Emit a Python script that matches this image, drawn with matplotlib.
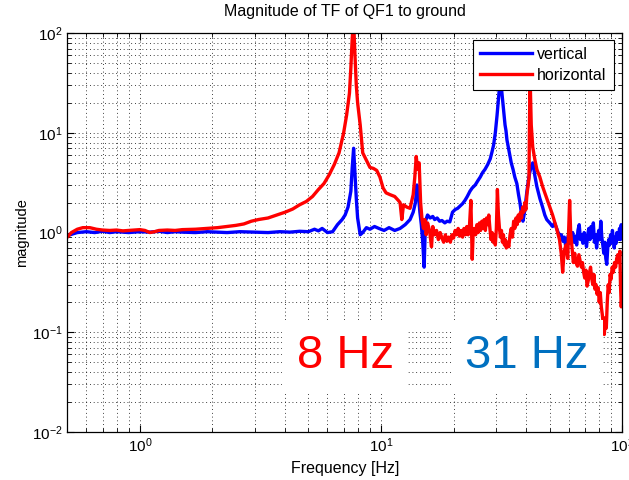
import matplotlib
matplotlib.use("Agg")
import matplotlib.pyplot as plt
from matplotlib.ticker import LogLocator, NullFormatter

plt.rcParams['font.family'] = ['Liberation Sans', 'DejaVu Sans']
plt.rcParams['mathtext.default'] = 'regular'

# ---- measured transfer function magnitudes ----
vert_freq = [0.5, 0.52, 0.55, 0.6, 0.65, 0.7, 0.75, 0.8, 0.85, 0.9, 1.0, 1.1, 1.2,
             1.3, 1.4, 1.5, 1.7, 1.9, 2.1, 2.3, 2.6, 3.0, 3.4, 3.8, 4.2, 4.6, 5.0,
             5.3, 5.5, 5.7, 6.0, 6.3, 6.6, 6.9, 7.1, 7.3, 7.5, 7.6, 7.7, 7.8, 7.9,
             8.0, 8.2, 8.4, 8.7, 9.0, 9.4, 9.8, 10.3, 10.8, 11.4, 12.0, 12.6, 13.2,
             13.6, 13.9, 14.1, 14.3, 14.5, 14.7, 14.9, 15.1,
             15.3, 15.6, 16.0, 16.4, 16.7, 17.1, 17.5, 17.9, 18.4, 18.8, 19.3, 19.8,
             20.3, 20.8, 21.3, 21.8, 22.3, 22.8, 23.4, 23.9, 24.6, 25.2, 25.8, 26.4,
             27.0, 27.7, 28.4, 28.9, 29.3, 29.8, 30.3, 30.8, 31.2, 31.6, 32.1, 32.4,
             32.7, 33.0, 33.3, 33.8, 34.2, 34.7, 35.3, 35.9, 36.6, 37.2, 37.7, 38.3,
             38.8, 39.2, 39.5, 40.0, 40.3, 41.0, 41.4, 42.0, 42.6, 43.0, 43.4, 44.3,
             45.6, 46.8, 47.8, 48.7, 50.1, 51.5, 52.5, 53.5, 54.3, 55.1,
             56.0, 56.8, 57.6, 58.4, 59.2, 60.0, 60.8, 61.6, 62.4, 63.2, 64.0, 64.8,
             65.6, 66.4, 67.2, 68.0, 68.8, 69.6, 70.4, 71.2, 72.0, 72.8, 73.6, 74.4,
             75.2, 76.0, 76.8, 77.6, 78.4, 79.2, 80.0, 80.8, 81.6, 82.4, 83.2, 84.0,
             84.8, 85.6, 86.4, 87.2, 88.0, 88.8, 89.6, 90.4, 91.2, 92.0, 92.8, 93.6,
             94.4, 95.2, 96.0, 96.8, 97.6, 98.4, 99.2, 100.0]
vert_mag = [0.93, 0.96, 1.0, 1.02, 1.0, 1.03, 1.0, 1.02, 1.01, 1.0, 1.02, 1.01, 1.03,
            1.0, 1.02, 1.01, 1.0, 1.02, 1.01, 1.0, 1.02, 1.01, 1.0, 1.02, 1.01, 1.03,
            1.02, 1.08, 1.04, 1.1, 1.0, 1.02, 1.2, 1.35, 1.5, 1.8, 2.6, 4.5, 7.0,
            4.0, 2.2, 1.4, 0.95, 1.0, 1.12, 1.08, 1.15, 1.1, 1.05, 1.12, 1.05, 1.1,
            1.2, 1.35, 1.6, 2.0, 3.0, 2.4, 1.6, 1.2, 0.8, 0.45,
            1.3, 1.5, 1.4, 1.45, 1.35, 1.4, 1.3, 1.32, 1.25, 1.3, 1.28, 1.6,
            1.7, 1.75, 1.85, 1.95, 2.1, 2.3, 2.6, 2.8, 3.0, 3.3, 3.6, 4.0,
            4.3, 4.8, 5.5, 6.5, 7.5, 10.0, 15.0, 24.0, 34.0, 28.0, 19.0, 15.0,
            12.0, 10.5, 8.5, 7.0, 6.0, 5.0, 4.3, 3.6, 3.1, 2.4, 2.0, 1.5,
            1.3, 1.5, 1.7, 2.2, 2.6, 3.5, 4.0, 4.6, 5.0, 4.5, 3.8, 2.9,
            2.2, 1.8, 1.5, 1.35, 1.25, 1.15, 1.25, 1.1, 1.0, 0.95,
            0.95, 0.82, 0.9, 0.72, 0.85, 0.95, 0.78, 0.88, 1.0, 0.8, 0.92, 0.75,
            1.05, 1.2, 0.85, 0.95, 0.78, 1.0, 0.88, 0.72, 0.95, 1.1, 0.85, 1.15,
            0.9, 1.25, 0.8, 0.95, 0.7, 0.9, 1.05, 0.85, 1.3, 0.9, 0.75, 0.62,
            0.8, 0.55, 0.48, 0.7, 0.85, 0.75, 0.95, 0.8, 1.05, 0.85, 0.7, 0.9,
            0.78, 1.0, 0.85, 0.92, 1.1, 0.85, 1.2, 0.95]

horiz_freq = [0.5, 0.52, 0.55, 0.58, 0.62, 0.66, 0.7, 0.75, 0.8, 0.85, 0.9, 0.95,
              1.0, 1.05, 1.1, 1.15, 1.2, 1.3, 1.4, 1.5, 1.7, 1.9, 2.1, 2.3, 2.5,
              2.7, 2.9, 3.1, 3.4, 3.7, 4.0, 4.3, 4.6, 4.9, 5.2, 5.5, 5.8, 6.1, 6.4,
              6.7, 7.0, 7.2, 7.4, 7.5, 7.6, 7.7, 7.8, 7.9, 8.0, 8.2, 8.4, 8.7, 9.0,
              9.3, 9.6, 9.9, 10.2, 10.5, 10.9, 11.4, 11.8, 12.0, 12.2, 12.4, 12.8,
              13.2, 13.6, 13.8, 14.0, 14.2, 14.4, 14.6,
              14.8, 15.0, 15.2, 15.4, 15.6, 15.9, 16.2, 16.4, 16.7, 17.0, 17.3, 17.6,
              17.9, 18.2, 18.5, 18.8, 19.1, 19.4, 19.7, 20.0, 20.3, 20.6, 20.9, 21.2,
              21.5, 21.8, 22.1, 22.4, 22.7, 23.0, 23.3, 23.6, 23.8, 23.9, 24.1, 24.4,
              24.7, 25.0, 25.3, 25.6, 25.9, 26.2, 26.5, 26.8, 27.1, 27.4, 27.7, 28.0,
              28.3, 28.6, 28.9, 29.2, 29.5, 29.8, 30.1, 30.4, 30.7, 31.0, 31.3, 31.6,
              31.9, 32.2, 32.5, 32.8, 33.1, 33.5, 33.9, 34.3, 34.7, 35.1, 35.5, 35.9,
              36.3, 36.7, 37.1, 37.5, 37.9, 38.3, 38.7, 39.1, 39.5, 39.9, 40.3, 40.7,
              41.1, 41.5, 42.0, 42.6, 43.4, 44.3, 45.6, 46.8, 48.7, 50.1, 51.5, 53.5,
              55.0, 56.0, 56.7, 57.5, 58.5, 59.5, 60.6, 61.2, 62.0, 62.8, 63.6, 64.4,
              65.3, 66.2, 67.0, 67.8, 68.5, 69.3, 70.0, 70.8, 71.6, 72.4, 73.3, 74.0,
              74.8, 75.6, 76.4, 77.2, 78.0, 78.8, 79.6, 80.4, 81.2, 82.0, 82.8, 83.6,
              84.4, 85.2, 86.0, 86.8, 87.6, 88.4, 89.2, 90.0, 91.0, 92.0, 93.0, 94.0,
              95.0, 96.0, 97.0, 97.9, 98.5, 99.2, 100.0]
horiz_mag = [0.9, 1.0, 1.08, 1.12, 1.12, 1.08, 1.06, 1.05, 1.06, 1.04, 1.05, 1.06,
             1.07, 1.05, 1.0, 1.02, 1.05, 1.06, 1.05, 1.07, 1.08, 1.1, 1.12, 1.15,
             1.18, 1.22, 1.3, 1.35, 1.4, 1.5, 1.6, 1.72, 1.9, 2.05, 2.3, 2.7, 3.1,
             3.8, 4.8, 6.3, 10.0, 15.0, 25.0, 45.0, 90.0, 130.0, 60.0, 30.0, 20.0,
             12.0, 6.3, 5.3, 4.5, 4.4, 4.2, 3.6, 2.8, 2.5, 2.4, 2.3, 2.1, 2.0, 1.35,
             1.9, 1.8, 1.75, 2.4, 3.5, 5.8, 4.3, 5.0, 2.0,
             1.35, 1.1, 1.35, 0.95, 1.25, 1.05, 0.72, 1.15, 0.95, 1.05, 0.85, 1.0,
             0.88, 0.8, 0.95, 0.82, 0.9, 0.8, 0.95, 0.88, 1.05, 0.95, 1.1, 0.92,
             1.05, 0.9, 1.1, 0.95, 1.15, 0.95, 1.2, 2.1, 0.9, 0.54, 0.95, 1.1,
             0.95, 1.2, 1.0, 1.25, 1.05, 1.3, 1.1, 1.35, 1.05, 1.4, 1.2, 1.5,
             1.1, 0.85, 1.0, 0.8, 0.95, 0.75, 1.1, 2.7, 1.5, 1.1, 0.9, 1.05,
             0.8, 0.95, 0.75, 0.85, 0.7, 0.8, 0.72, 0.95, 1.1, 0.9, 1.3, 1.1,
             1.4, 1.2, 1.5, 1.3, 1.6, 1.4, 1.8, 1.6, 2.0, 1.7, 2.4, 2.9,
             3.5, 40.0, 12.0, 7.2, 5.5, 4.3, 3.6, 2.9, 2.2, 1.8, 1.5, 1.1,
             0.85, 0.6, 0.4, 0.65, 0.75, 0.55, 2.1, 1.0, 0.7, 0.5, 0.62, 0.5,
             0.46, 0.6, 0.52, 0.45, 0.5, 0.4, 0.35, 0.42, 0.29, 0.33, 0.4, 0.45,
             0.35, 0.3, 0.38, 0.27, 0.3, 0.24, 0.28, 0.2, 0.25, 0.18, 0.15, 0.12,
             0.095, 0.14, 0.11, 0.2, 0.3, 0.25, 0.38, 0.34, 0.45, 0.4, 0.5, 0.45,
             0.55, 0.6, 0.5, 0.65, 0.3, 0.18, 0.25]

series_labels = ['vertical', 'horizontal']
series_colors = ['#0000ff', '#ff0000']
x_limits = (0.5, 100)
y_limits = (1e-2, 1e2)

fig = plt.figure(figsize=(6.29, 4.80), dpi=100)
ax = fig.add_axes([0.107, 0.10, 0.882, 0.831])

ax.loglog(vert_freq, vert_mag, color=series_colors[0], lw=2.4, label=series_labels[0])
ax.loglog(horiz_freq, horiz_mag, color=series_colors[1], lw=2.4, label=series_labels[1])

ax.set_xlim(*x_limits)
ax.set_ylim(*y_limits)

ax.xaxis.set_major_locator(LogLocator(base=10, numticks=10))
ax.yaxis.set_major_locator(LogLocator(base=10, numticks=10))
ax.xaxis.set_minor_locator(LogLocator(base=10, subs=range(2, 10), numticks=20))
ax.yaxis.set_minor_locator(LogLocator(base=10, subs=range(2, 10), numticks=20))
ax.xaxis.set_minor_formatter(NullFormatter())
ax.yaxis.set_minor_formatter(NullFormatter())

ax.grid(True, which='both', color='k', linestyle=(0, (1, 3.5)), linewidth=0.6)
ax.set_axisbelow(True)
ax.tick_params(which='both', direction='in', top=True, right=True, labelsize=11)
ax.tick_params(which='major', length=5, width=0.8)
ax.tick_params(which='minor', length=3, width=0.6)
for s in ax.spines.values():
    s.set_linewidth(0.9)

ax.set_title('Magnitude of TF of QF1 to ground', fontsize=11.5, pad=12)
ax.set_xlabel('Frequency [Hz]', fontsize=11.5, labelpad=4)
ax.set_ylabel('magnitude', fontsize=10.5, labelpad=2)

leg = ax.legend(loc='upper right', bbox_to_anchor=(0.985, 0.983), fontsize=11.5,
                fancybox=False, framealpha=1, edgecolor='k', handlelength=3.3,
                handletextpad=0.3, borderpad=0.45, borderaxespad=0.0,
                labelspacing=0.35)
leg.get_frame().set_linewidth(0.8)

box = dict(boxstyle='square,pad=0.3', facecolor='white', edgecolor='none')
ax.text(7.1, 0.0575, '8 Hz', color='#ff0000', fontsize=34, ha='center', va='center', bbox=box)
ax.text(40.3, 0.0575, '31 Hz', color='#0070c0', fontsize=34, ha='center', va='center', bbox=box)

fig.savefig('out.png', dpi=100)
